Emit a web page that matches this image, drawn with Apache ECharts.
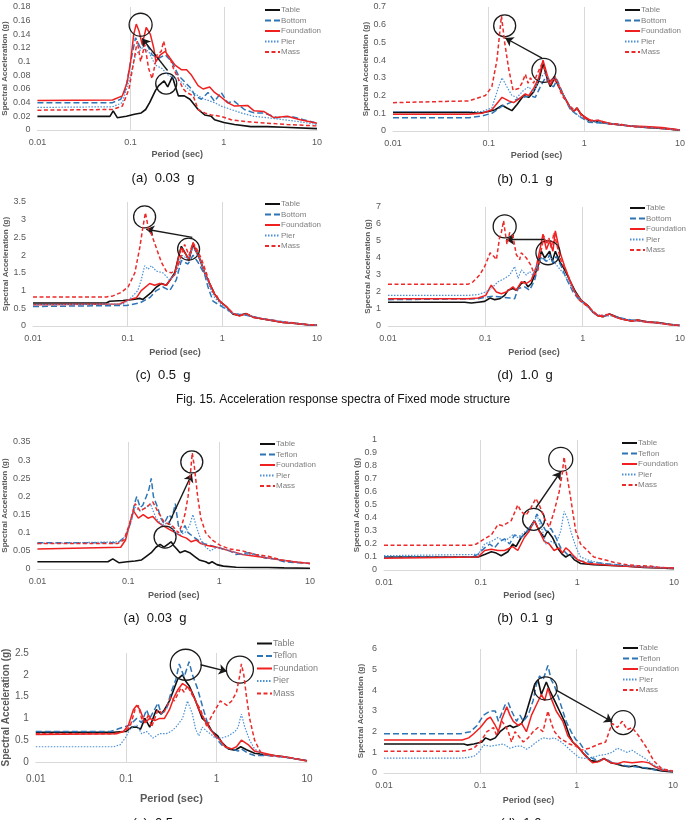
<!DOCTYPE html>
<html>
<head>
<meta charset="utf-8">
<script src="https://cdn.jsdelivr.net/npm/echarts@6/dist/echarts.min.js"></script>
<style>
  html, body { margin: 0; padding: 0; background: #fff; }
  #chart { width: 691px; height: 820px; }
</style>
</head>
<body>
<div id="chart"></div>
<script>
// ---- Fixed mode, (a) 0.03 g ----  [period (sec), Sa (g)]
const fixA_table = [[0.01,0.02],[0.06,0.02],[0.065,0.028],[0.072,0.018],[0.09,0.02],[0.11,0.023],[0.13,0.025],[0.145,0.03],[0.16,0.04],[0.185,0.058],[0.2,0.065],[0.229,0.072],[0.25,0.063],[0.281,0.078],[0.3,0.065],[0.325,0.05],[0.377,0.05],[0.433,0.045],[0.53,0.03],[0.624,0.022],[0.734,0.02],[0.796,0.015],[1.0,0.011],[1.3,0.008],[1.95,0.005],[2.9,0.005],[4.4,0.004],[10,0.002]]
const fixA_bottom = [[0.01,0.04],[0.064,0.04],[0.0783,0.045],[0.0885,0.06],[0.1,0.1],[0.113,0.135],[0.128,0.12],[0.144,0.13],[0.17,0.11],[0.2,0.105],[0.235,0.11],[0.277,0.1],[0.325,0.08],[0.383,0.07],[0.451,0.06],[0.489,0.05],[0.575,0.045],[0.677,0.055],[0.796,0.042],[0.937,0.055],[1.1,0.04],[1.3,0.042],[1.66,0.03],[2.11,0.025],[2.7,0.025],[3.73,0.018],[5.17,0.02],[7.16,0.015],[10,0.01]]
const fixA_foundation = [[0.01,0.043],[0.064,0.044],[0.0816,0.05],[0.092,0.07],[0.1,0.1],[0.108,0.14],[0.115,0.155],[0.123,0.145],[0.133,0.125],[0.147,0.15],[0.163,0.14],[0.177,0.12],[0.187,0.1],[0.208,0.11],[0.235,0.115],[0.265,0.105],[0.3,0.095],[0.353,0.088],[0.399,0.088],[0.451,0.08],[0.53,0.065],[0.599,0.06],[0.705,0.063],[0.796,0.055],[0.937,0.048],[1.1,0.04],[1.3,0.035],[1.8,0.036],[2.11,0.028],[2.7,0.027],[3.44,0.018],[4.77,0.02],[6.61,0.015],[10,0.01]]
const fixA_pier = [[0.01,0.033],[0.064,0.034],[0.0816,0.04],[0.1,0.08],[0.113,0.11],[0.133,0.12],[0.156,0.115],[0.184,0.095],[0.217,0.09],[0.255,0.08],[0.3,0.075],[0.353,0.07],[0.415,0.06],[0.469,0.055],[0.53,0.05],[0.624,0.045],[0.796,0.04],[0.937,0.035],[1.2,0.03],[1.53,0.025],[2.11,0.02],[2.93,0.018],[4.4,0.015],[6.61,0.012],[10,0.008]]
const fixA_mass = [[0.01,0.029],[0.064,0.03],[0.0816,0.035],[0.096,0.06],[0.108,0.1],[0.118,0.13],[0.128,0.1],[0.142,0.125],[0.156,0.09],[0.17,0.075],[0.192,0.11],[0.213,0.115],[0.226,0.13],[0.245,0.11],[0.265,0.105],[0.288,0.09],[0.325,0.075],[0.368,0.06],[0.399,0.055],[0.469,0.05],[0.53,0.03],[0.624,0.025],[0.734,0.022],[0.937,0.02],[1.2,0.015],[1.8,0.012],[2.93,0.01],[4.77,0.008],[10,0.006]]
const fixA_circles = [[0.128,0.154],[0.241,0.068]]
const fixA_arrow = [[0.249,0.087],[0.133,0.134]]

// ---- Fixed mode, (b) 0.1 g ----
const fixB_table = [[0.01,0.105],[0.0618,0.105],[0.0786,0.1],[0.1,0.11],[0.117,0.12],[0.138,0.145],[0.155,0.13],[0.175,0.115],[0.198,0.15],[0.232,0.2],[0.262,0.19],[0.295,0.22],[0.333,0.28],[0.37,0.38],[0.407,0.3],[0.441,0.25],[0.49,0.3],[0.54,0.25],[0.608,0.2],[0.714,0.13],[0.774,0.11],[0.838,0.13],[0.908,0.1],[1.11,0.06],[1.41,0.05],[1.95,0.04],[2.9,0.03],[4.34,0.02],[6.48,0.015],[10,0.005]]
const fixB_bottom = [[0.01,0.075],[0.0618,0.075],[0.0851,0.085],[0.108,0.1],[0.138,0.14],[0.168,0.16],[0.198,0.18],[0.232,0.19],[0.273,0.2],[0.307,0.19],[0.347,0.25],[0.391,0.3],[0.441,0.26],[0.478,0.25],[0.518,0.29],[0.608,0.2],[0.714,0.12],[0.805,0.1],[0.908,0.08],[1.11,0.05],[1.53,0.045],[2.29,0.035],[3.41,0.025],[5.98,0.018],[10,0.005]]
const fixB_foundation = [[0.01,0.095],[0.0618,0.095],[0.0851,0.1],[0.108,0.12],[0.138,0.19],[0.162,0.17],[0.182,0.16],[0.206,0.18],[0.242,0.21],[0.262,0.2],[0.295,0.24],[0.333,0.3],[0.37,0.4],[0.407,0.32],[0.441,0.26],[0.49,0.31],[0.54,0.26],[0.608,0.2],[0.714,0.13],[0.774,0.11],[0.838,0.125],[0.946,0.09],[1.2,0.055],[1.41,0.06],[1.95,0.04],[2.9,0.03],[4.34,0.025],[6.48,0.02],[10,0.005]]
const fixB_pier = [[0.01,0.11],[0.0618,0.11],[0.0851,0.11],[0.108,0.13],[0.127,0.25],[0.138,0.3],[0.155,0.25],[0.175,0.2],[0.198,0.19],[0.232,0.23],[0.262,0.25],[0.295,0.22],[0.347,0.3],[0.391,0.33],[0.441,0.28],[0.498,0.3],[0.584,0.22],[0.686,0.14],[0.805,0.1],[0.946,0.07],[1.2,0.055],[1.66,0.045],[2.48,0.035],[3.7,0.025],[5.98,0.015],[10,0.005]]
const fixB_mass = [[0.01,0.16],[0.0618,0.17],[0.0923,0.2],[0.108,0.25],[0.122,0.4],[0.136,0.65],[0.147,0.5],[0.162,0.35],[0.18,0.23],[0.206,0.24],[0.223,0.27],[0.242,0.32],[0.258,0.27],[0.273,0.3],[0.295,0.27],[0.32,0.32],[0.361,0.38],[0.391,0.34],[0.424,0.27],[0.478,0.3],[0.54,0.25],[0.584,0.2],[0.686,0.15],[0.774,0.12],[0.838,0.13],[0.946,0.08],[1.11,0.06],[1.41,0.06],[1.8,0.04],[2.29,0.04],[3.15,0.025],[4.34,0.02],[5.52,0.018],[7.62,0.01],[10,0.005]]
const fixB_circles = [[0.147,0.594],[0.378,0.342]]
const fixB_arrow = [[0.361,0.411],[0.149,0.525]]

// ---- Fixed mode, (c) 0.5 g ----
const fixC_table = [[0.01,0.65],[0.0595,0.65],[0.0646,0.7],[0.0893,0.72],[0.114,0.75],[0.134,0.78],[0.145,0.75],[0.178,0.95],[0.201,1.1],[0.227,1.2],[0.256,1.15],[0.289,1.35],[0.314,1.5],[0.348,2.0],[0.369,2.25],[0.417,2.0],[0.441,1.85],[0.49,2.3],[0.531,2.1],[0.576,1.9],[0.651,1.5],[0.735,1.2],[0.83,0.9],[0.937,0.7],[1.1,0.55],[1.3,0.33],[1.52,0.3],[1.79,0.35],[2.11,0.25],[2.69,0.2],[3.43,0.15],[4.38,0.1],[5.57,0.08],[7.71,0.04],[10,0.02]]
const fixC_bottom = [[0.01,0.55],[0.0968,0.58],[0.134,0.65],[0.171,0.8],[0.201,1.0],[0.236,1.1],[0.278,1.0],[0.326,1.3],[0.369,1.85],[0.434,1.75],[0.49,2.0],[0.553,1.8],[0.651,1.45],[0.706,1.1],[0.797,0.7],[0.99,0.55],[1.3,0.35],[1.79,0.3],[2.69,0.2],[4.38,0.12],[7.11,0.05],[10,0.02]]
const fixC_foundation = [[0.01,0.6],[0.0823,0.62],[0.105,0.75],[0.124,0.8],[0.139,1.0],[0.171,1.2],[0.193,1.15],[0.218,1.2],[0.256,1.15],[0.289,1.35],[0.314,1.45],[0.348,2.0],[0.369,2.2],[0.417,2.0],[0.441,1.85],[0.49,2.35],[0.531,2.1],[0.576,1.9],[0.651,1.5],[0.735,1.2],[0.83,0.9],[0.937,0.7],[1.1,0.55],[1.3,0.35],[1.52,0.28],[1.79,0.35],[2.11,0.25],[2.69,0.2],[3.43,0.15],[4.38,0.1],[5.57,0.08],[7.71,0.04],[10,0.02]]
const fixC_pier = [[0.01,0.6],[0.0893,0.62],[0.109,0.8],[0.128,1.0],[0.139,1.3],[0.151,1.7],[0.164,1.6],[0.178,1.7],[0.201,1.55],[0.236,1.5],[0.278,1.3],[0.326,1.5],[0.369,2.0],[0.434,1.9],[0.49,2.2],[0.553,2.0],[0.651,1.5],[0.735,1.1],[0.83,0.8],[1.02,0.55],[1.3,0.35],[1.79,0.32],[2.69,0.2],[4.38,0.12],[7.11,0.05],[10,0.02]]
const fixC_mass = [[0.01,0.82],[0.0595,0.82],[0.0697,0.85],[0.0857,0.95],[0.101,1.1],[0.119,1.5],[0.134,2.2],[0.145,2.8],[0.154,3.2],[0.167,2.7],[0.178,2.6],[0.201,2.2],[0.227,1.8],[0.256,1.55],[0.289,1.5],[0.314,1.55],[0.34,1.7],[0.378,2.1],[0.4,2.3],[0.444,2.0],[0.49,2.35],[0.531,2.2],[0.6,1.9],[0.678,1.5],[0.735,1.2],[0.797,0.95],[0.851,0.9],[0.937,0.7],[1.1,0.55],[1.3,0.35],[1.52,0.3],[1.79,0.35],[2.11,0.25],[2.69,0.2],[3.3,0.17],[4.03,0.12],[5.14,0.1],[7.11,0.05],[10,0.02]]
const fixC_circles = [[0.151,3.08],[0.44,2.17]]
const fixC_arrow = [[0.482,2.5],[0.157,2.73]]

// ---- Fixed mode, (d) 1.0 g ----
const fixD_table = [[0.01,1.4],[0.0613,1.4],[0.0718,1.35],[0.0841,1.4],[0.0984,1.45],[0.112,1.65],[0.125,1.55],[0.14,1.6],[0.158,1.8],[0.171,2.1],[0.192,2.2],[0.208,2.1],[0.234,2.5],[0.254,2.6],[0.274,2.3],[0.297,2.5],[0.321,3.0],[0.348,3.5],[0.376,4.4],[0.407,4.0],[0.458,4.4],[0.488,3.8],[0.524,4.4],[0.58,3.8],[0.653,3.3],[0.765,2.5],[0.847,2.0],[0.968,1.5],[1.13,1.2],[1.28,0.8],[1.44,0.6],[1.62,0.55],[1.89,0.7],[2.22,0.55],[2.6,0.4],[3.16,0.3],[3.7,0.35],[4.51,0.25],[5.94,0.2],[7.83,0.1],[10,0.03]]
const fixD_bottom = [[0.01,1.55],[0.0841,1.6],[0.101,1.7],[0.12,1.75],[0.146,1.7],[0.178,1.65],[0.2,1.6],[0.217,2.2],[0.254,2.3],[0.285,2.1],[0.321,2.7],[0.348,3.5],[0.376,4.1],[0.424,3.8],[0.458,4.2],[0.495,3.7],[0.536,4.1],[0.604,3.5],[0.679,2.8],[0.796,2.0],[0.931,1.5],[1.13,1.2],[1.28,0.8],[1.5,0.55],[1.89,0.65],[2.31,0.5],[3.16,0.35],[4.51,0.25],[6.43,0.15],[10,0.03]]
const fixD_foundation = [[0.01,1.6],[0.0664,1.6],[0.0841,1.65],[0.101,1.8],[0.115,2.4],[0.13,2.0],[0.146,1.9],[0.164,2.0],[0.192,2.3],[0.208,2.1],[0.234,2.6],[0.264,2.5],[0.297,2.7],[0.334,3.5],[0.37,4.7],[0.391,5.4],[0.424,4.5],[0.458,5.0],[0.495,4.4],[0.524,5.6],[0.58,4.4],[0.653,3.5],[0.735,2.7],[0.828,2.0],[0.968,1.5],[1.13,1.2],[1.28,0.8],[1.44,0.6],[1.62,0.55],[1.89,0.7],[2.22,0.5],[2.6,0.4],[3.16,0.3],[3.7,0.32],[4.51,0.22],[5.94,0.18],[7.83,0.08],[10,0.03]]
const fixD_pier = [[0.01,1.8],[0.0664,1.8],[0.0841,1.85],[0.101,2.0],[0.115,2.2],[0.135,2.6],[0.158,2.8],[0.178,3.0],[0.2,3.5],[0.217,2.8],[0.234,3.3],[0.264,3.0],[0.285,3.2],[0.309,3.0],[0.334,3.5],[0.376,4.0],[0.424,3.8],[0.476,4.0],[0.536,3.6],[0.653,3.0],[0.765,2.3],[0.931,1.6],[1.13,1.1],[1.33,0.7],[1.68,0.6],[1.97,0.6],[2.7,0.4],[3.7,0.3],[5.5,0.2],[10,0.03]]
const fixD_mass = [[0.01,2.45],[0.0664,2.45],[0.0747,2.6],[0.0874,3.0],[0.0984,3.5],[0.112,4.3],[0.122,4.1],[0.13,3.9],[0.14,5.2],[0.146,5.5],[0.154,6.2],[0.16,5.5],[0.167,4.8],[0.178,5.5],[0.192,5.3],[0.208,4.2],[0.225,3.9],[0.234,4.3],[0.264,4.0],[0.292,3.6],[0.321,3.0],[0.348,3.3],[0.376,4.5],[0.401,5.3],[0.424,4.8],[0.448,5.2],[0.476,4.6],[0.507,5.5],[0.558,4.5],[0.604,3.8],[0.679,3.2],[0.765,2.5],[0.828,2.0],[0.931,1.5],[1.09,1.2],[1.28,0.9],[1.44,0.6],[1.68,0.65],[1.89,0.7],[2.13,0.55],[2.5,0.4],[3.16,0.3],[3.7,0.35],[4.69,0.25],[5.94,0.2],[7.53,0.1],[10,0.03]]
const fixD_circles = [[0.158,5.86],[0.44,4.31]]
const fixD_arrow = [[0.407,5.08],[0.164,5.08]]

// ---- Isolated (Teflon) mode, (a) 0.03 g ----
const isoA_table = [[0.01,0.02],[0.0597,0.02],[0.0675,0.028],[0.0793,0.017],[0.0972,0.02],[0.119,0.022],[0.14,0.025],[0.158,0.035],[0.179,0.045],[0.202,0.06],[0.224,0.068],[0.247,0.06],[0.279,0.07],[0.296,0.075],[0.315,0.065],[0.342,0.055],[0.371,0.045],[0.42,0.05],[0.474,0.045],[0.535,0.035],[0.604,0.025],[0.711,0.02],[0.771,0.015],[0.836,0.02],[0.944,0.012],[1.11,0.008],[1.54,0.005],[2.31,0.004],[3.47,0.004],[5.2,0.003],[10,0.002]]
const isoA_teflon = [[0.01,0.072],[0.0703,0.072],[0.0793,0.075],[0.0933,0.09],[0.107,0.13],[0.117,0.18],[0.124,0.2],[0.135,0.17],[0.144,0.175],[0.158,0.2],[0.169,0.22],[0.179,0.25],[0.189,0.2],[0.21,0.17],[0.228,0.14],[0.247,0.125],[0.279,0.15],[0.303,0.14],[0.329,0.18],[0.356,0.12],[0.387,0.1],[0.42,0.12],[0.455,0.1],[0.514,0.09],[0.58,0.08],[0.683,0.07],[0.803,0.065],[0.944,0.06],[1.11,0.055],[1.31,0.05],[1.54,0.04],[2.13,0.045],[2.5,0.04],[3.19,0.03],[4.07,0.028],[5.2,0.02],[6.64,0.018],[10,0.015]]
const isoA_foundation = [[0.01,0.055],[0.0826,0.06],[0.0933,0.08],[0.105,0.13],[0.114,0.16],[0.129,0.14],[0.146,0.15],[0.165,0.14],[0.186,0.145],[0.21,0.13],[0.238,0.12],[0.279,0.11],[0.329,0.1],[0.387,0.09],[0.437,0.085],[0.493,0.075],[0.557,0.08],[0.629,0.07],[0.74,0.065],[0.944,0.06],[1.31,0.05],[1.81,0.04],[2.5,0.035],[3.47,0.03],[4.8,0.025],[6.64,0.02],[10,0.015]]
const isoA_pier = [[0.01,0.07],[0.0793,0.075],[0.0933,0.09],[0.107,0.13],[0.119,0.17],[0.135,0.16],[0.158,0.17],[0.175,0.18],[0.202,0.14],[0.238,0.12],[0.279,0.13],[0.329,0.1],[0.371,0.095],[0.42,0.1],[0.474,0.12],[0.514,0.15],[0.557,0.12],[0.629,0.08],[0.711,0.06],[0.803,0.05],[0.944,0.06],[1.31,0.05],[1.81,0.04],[2.5,0.04],[3.47,0.03],[4.8,0.025],[6.64,0.02],[10,0.015]]
const isoA_mass = [[0.01,0.07],[0.0762,0.07],[0.0896,0.08],[0.105,0.13],[0.119,0.18],[0.135,0.16],[0.158,0.17],[0.186,0.185],[0.21,0.16],[0.247,0.13],[0.303,0.12],[0.356,0.1],[0.387,0.12],[0.42,0.15],[0.455,0.2],[0.486,0.27],[0.506,0.32],[0.535,0.28],[0.58,0.2],[0.629,0.14],[0.711,0.1],[0.836,0.08],[1.03,0.065],[1.31,0.055],[1.81,0.05],[2.5,0.04],[3.47,0.035],[4.8,0.025],[6.64,0.02],[10,0.015]]
const isoA_circles = [[0.254,0.088],[0.5,0.295]]
const isoA_arrow = [[0.275,0.122],[0.501,0.262]]

// ---- Isolated (Teflon) mode, (b) 0.1 g ----
const isoB_table = [[0.01,0.1],[0.0939,0.1],[0.11,0.12],[0.129,0.14],[0.145,0.13],[0.163,0.11],[0.191,0.14],[0.215,0.2],[0.232,0.18],[0.262,0.25],[0.306,0.3],[0.359,0.38],[0.404,0.3],[0.455,0.25],[0.492,0.3],[0.553,0.25],[0.623,0.17],[0.701,0.12],[0.759,0.1],[0.841,0.12],[0.925,0.08],[1.08,0.05],[1.48,0.04],[2.2,0.035],[3.27,0.03],[4.84,0.02],[7.18,0.015],[10,0.01]]
const isoB_teflon = [[0.01,0.1],[0.0802,0.1],[0.0939,0.12],[0.11,0.17],[0.124,0.2],[0.139,0.17],[0.157,0.22],[0.177,0.24],[0.199,0.2],[0.224,0.27],[0.262,0.25],[0.306,0.3],[0.345,0.35],[0.382,0.43],[0.42,0.37],[0.473,0.3],[0.532,0.32],[0.599,0.25],[0.674,0.17],[0.789,0.12],[0.925,0.1],[1.08,0.07],[1.37,0.06],[1.88,0.05],[2.58,0.04],[3.53,0.03],[4.84,0.025],[6.64,0.02],[10,0.015]]
const isoB_foundation = [[0.01,0.09],[0.0939,0.1],[0.11,0.15],[0.129,0.16],[0.151,0.15],[0.177,0.15],[0.215,0.18],[0.242,0.15],[0.283,0.25],[0.319,0.3],[0.359,0.38],[0.404,0.3],[0.455,0.22],[0.512,0.2],[0.575,0.15],[0.648,0.17],[0.701,0.13],[0.759,0.17],[0.821,0.15],[0.889,0.12],[1.0,0.08],[1.27,0.05],[1.88,0.04],[2.79,0.03],[4.13,0.025],[6.13,0.02],[10,0.015]]
const isoB_pier = [[0.01,0.11],[0.0939,0.12],[0.11,0.2],[0.129,0.22],[0.151,0.25],[0.177,0.22],[0.215,0.27],[0.242,0.25],[0.294,0.3],[0.345,0.35],[0.382,0.42],[0.437,0.3],[0.473,0.2],[0.532,0.22],[0.599,0.2],[0.674,0.3],[0.729,0.45],[0.789,0.4],[0.855,0.3],[0.962,0.18],[1.08,0.1],[1.37,0.07],[1.88,0.05],[2.58,0.04],[3.82,0.03],[6.13,0.02],[10,0.015]]
const isoB_mass = [[0.01,0.19],[0.0802,0.19],[0.0902,0.2],[0.11,0.24],[0.129,0.27],[0.151,0.35],[0.169,0.34],[0.207,0.38],[0.227,0.45],[0.242,0.5],[0.262,0.45],[0.294,0.42],[0.332,0.48],[0.373,0.55],[0.404,0.5],[0.455,0.4],[0.512,0.33],[0.575,0.45],[0.648,0.6],[0.701,0.75],[0.729,0.87],[0.771,0.75],[0.834,0.6],[0.875,0.5],[0.962,0.3],[1.08,0.2],[1.27,0.15],[1.48,0.1],[1.88,0.08],[2.38,0.06],[3.27,0.04],[4.13,0.035],[5.66,0.03],[7.18,0.02],[10,0.015]]
const isoB_circles = [[0.353,0.39],[0.674,0.851]]
const isoB_arrow = [[0.373,0.479],[0.674,0.756]]

// ---- Isolated (Teflon) mode, (c) 0.5 g ----
const isoC_table = [[0.01,0.68],[0.0728,0.68],[0.0935,0.7],[0.1,0.7],[0.115,0.8],[0.131,0.8],[0.144,0.75],[0.161,1.0],[0.182,0.8],[0.198,1.0],[0.215,1.2],[0.244,1.1],[0.265,1.2],[0.301,1.4],[0.341,1.7],[0.371,1.9],[0.42,2.0],[0.456,1.85],[0.496,1.75],[0.562,1.5],[0.611,1.3],[0.693,1.0],[0.785,0.9],[0.89,0.7],[1.03,0.6],[1.14,0.45],[1.35,0.3],[1.6,0.27],[1.85,0.35],[2.14,0.28],[2.63,0.2],[3.38,0.17],[4.34,0.15],[5.57,0.12],[7.16,0.08],[10,0.03]]
const isoC_teflon = [[0.01,0.7],[0.067,0.7],[0.0792,0.75],[0.0935,0.8],[0.11,0.85],[0.131,1.0],[0.148,0.9],[0.168,1.2],[0.182,1.0],[0.225,1.35],[0.244,1.1],[0.277,1.2],[0.314,1.6],[0.355,1.9],[0.386,2.25],[0.438,1.95],[0.496,2.3],[0.54,2.0],[0.611,1.7],[0.693,1.3],[0.818,0.8],[0.967,0.6],[1.03,0.5],[1.19,0.35],[1.47,0.3],[1.73,0.25],[1.88,0.3],[2.23,0.2],[2.63,0.15],[3.68,0.15],[5.13,0.12],[7.16,0.08],[10,0.03]]
const isoC_foundation = [[0.01,0.63],[0.0792,0.65],[0.0935,0.7],[0.106,0.85],[0.12,1.2],[0.131,1.3],[0.142,1.2],[0.161,0.9],[0.182,1.0],[0.207,0.95],[0.234,1.0],[0.265,1.0],[0.301,1.2],[0.341,1.5],[0.371,1.65],[0.42,1.8],[0.456,1.75],[0.517,1.65],[0.586,1.4],[0.637,1.2],[0.722,1.0],[0.818,0.8],[0.967,0.6],[1.1,0.5],[1.24,0.35],[1.47,0.3],[1.66,0.35],[1.88,0.5],[2.23,0.4],[2.63,0.25],[3.38,0.2],[4.34,0.15],[5.57,0.12],[7.16,0.08],[10,0.03]]
const isoC_pier = [[0.01,0.35],[0.0728,0.35],[0.0861,0.4],[0.0975,0.55],[0.11,0.75],[0.131,0.85],[0.148,0.65],[0.168,0.7],[0.198,0.55],[0.234,0.65],[0.277,0.65],[0.314,0.7],[0.355,0.8],[0.42,1.0],[0.476,1.4],[0.54,1.1],[0.586,0.75],[0.637,0.6],[0.693,0.8],[0.785,0.7],[0.853,0.65],[0.967,0.55],[1.14,0.55],[1.35,0.6],[1.6,0.7],[1.73,0.8],[1.88,1.1],[2.05,0.8],[2.32,0.5],[2.63,0.3],[3.11,0.2],[3.68,0.15],[5.13,0.12],[7.16,0.08],[10,0.03]]
const isoC_mass = [[0.01,0.65],[0.0728,0.65],[0.0935,0.7],[0.11,0.8],[0.125,1.2],[0.136,1.3],[0.148,1.0],[0.161,0.9],[0.178,1.1],[0.19,0.8],[0.207,1.0],[0.225,1.2],[0.255,1.1],[0.288,1.3],[0.314,1.5],[0.341,1.4],[0.403,1.7],[0.438,1.6],[0.476,1.75],[0.517,1.6],[0.586,1.4],[0.664,1.2],[0.722,1.0],[0.785,0.8],[0.853,1.0],[0.967,1.2],[1.1,1.4],[1.3,1.3],[1.47,1.4],[1.66,1.6],[1.81,2.0],[1.88,2.25],[2.0,2.0],[2.14,1.5],[2.32,1.0],[2.63,0.5],[3.11,0.2],[3.68,0.15],[5.13,0.12],[6.59,0.1],[8.47,0.05],[10,0.02]]
const isoC_circles = [[0.456,2.23],[1.81,2.12]]
const isoC_arrow = [[0.664,2.23],[1.3,2.08]]

// ---- Isolated (Teflon) mode, (d) 1.0 g ----
const isoD_table = [[0.01,1.4],[0.0674,1.4],[0.0729,1.35],[0.0855,1.4],[0.104,1.5],[0.113,1.7],[0.127,1.6],[0.143,1.7],[0.16,2.0],[0.181,2.2],[0.203,2.3],[0.22,2.2],[0.248,2.3],[0.268,2.4],[0.29,2.7],[0.326,3.5],[0.367,4.3],[0.397,4.5],[0.43,3.8],[0.484,4.4],[0.524,4.0],[0.59,3.5],[0.664,3.0],[0.747,2.5],[0.841,1.8],[0.91,1.5],[1.06,1.2],[1.2,0.9],[1.4,0.6],[1.64,0.55],[1.92,0.7],[2.25,0.5],[2.54,0.45],[2.97,0.35],[3.48,0.3],[4.07,0.35],[4.77,0.25],[6.04,0.2],[7.65,0.1],[10,0.05]]
const isoD_teflon = [[0.01,1.9],[0.0623,1.9],[0.0789,2.0],[0.0925,2.3],[0.108,2.8],[0.127,3.0],[0.143,3.0],[0.154,2.5],[0.181,3.3],[0.195,3.4],[0.211,3.0],[0.238,2.5],[0.258,2.8],[0.279,2.5],[0.314,2.8],[0.353,3.5],[0.382,4.3],[0.413,4.7],[0.447,4.5],[0.503,5.2],[0.545,4.5],[0.59,4.2],[0.664,3.5],[0.777,2.5],[0.875,2.0],[0.985,1.6],[1.06,1.5],[1.25,1.0],[1.46,0.7],[1.71,0.6],[2.0,0.7],[2.34,0.5],[2.74,0.45],[3.21,0.35],[4.07,0.3],[5.15,0.25],[6.53,0.15],[10,0.1]]
const isoD_foundation = [[0.01,1.6],[0.0648,1.6],[0.0758,1.7],[0.0855,1.9],[0.1,2.2],[0.117,2.6],[0.127,2.7],[0.143,2.3],[0.154,2.0],[0.167,2.6],[0.188,3.2],[0.203,2.8],[0.22,2.5],[0.248,2.3],[0.268,2.4],[0.301,2.0],[0.34,2.8],[0.382,3.3],[0.43,3.8],[0.465,3.5],[0.503,4.1],[0.545,3.6],[0.613,3.0],[0.718,2.5],[0.809,1.8],[0.91,1.5],[1.02,1.3],[1.15,1.0],[1.3,0.7],[1.46,0.5],[1.71,0.55],[1.92,0.7],[2.25,0.5],[2.64,0.45],[3.09,0.55],[3.76,0.5],[4.77,0.55],[5.58,0.5],[6.53,0.3],[7.65,0.15],[10,0.08]]
const isoD_pier = [[0.01,0.72],[0.0623,0.72],[0.0729,0.75],[0.0855,0.8],[0.0962,1.0],[0.108,1.35],[0.127,1.3],[0.148,1.35],[0.174,1.4],[0.203,1.2],[0.238,1.3],[0.268,1.3],[0.301,1.15],[0.34,1.3],[0.382,1.5],[0.447,1.7],[0.524,1.65],[0.59,1.7],[0.69,1.5],[0.777,1.3],[0.91,1.0],[1.06,0.75],[1.25,0.7],[1.46,0.75],[1.71,0.85],[2.0,0.9],[2.34,1.0],[2.64,1.2],[2.97,1.1],[3.34,1.0],[3.76,1.1],[4.4,0.9],[5.15,0.7],[6.28,0.4],[7.65,0.2],[10,0.05]]
const isoD_mass = [[0.01,1.05],[0.0623,1.05],[0.0729,1.1],[0.0855,1.2],[0.1,1.5],[0.117,2.0],[0.137,2.2],[0.148,1.8],[0.167,2.5],[0.181,2.3],[0.195,2.0],[0.211,1.5],[0.229,2.0],[0.258,1.7],[0.279,1.5],[0.314,1.7],[0.353,2.0],[0.397,2.2],[0.447,2.0],[0.503,3.0],[0.545,2.4],[0.59,2.0],[0.664,1.7],[0.747,1.55],[0.841,1.4],[0.985,1.3],[1.11,1.1],[1.35,1.2],[1.71,1.4],[2.0,1.5],[2.17,2.0],[2.34,2.4],[2.64,2.2],[2.97,2.5],[3.34,2.1],[3.76,2.2],[4.4,1.8],[5.36,1.2],[6.28,0.6],[7.65,0.2],[10,0.1]]
const isoD_circles = [[0.476,4.09],[3.04,2.44]]
const isoD_arrow = [[0.613,4.01],[2.34,2.48]]

const yMaxes = [0.18, 0.7, 3.5, 7, 0.35, 1, 2.5, 6]
const ySteps = [0.02, 0.1, 0.5, 1, 0.05, 0.1, 0.5, 1]
const captions = ['(a)  0.03  g', '(b)  0.1  g', '(c)  0.5  g', '(d)  1.0  g',
                  '(a)  0.03  g', '(b)  0.1  g', '(c)  0.5  g', '(d)  1.0  g']
const figTitle = 'Fig. 15. Acceleration response spectra of Fixed mode structure'

// layout of the eight panels (pixels)
const panels = [
  { grid: [34, 7, 283, 123],   legend: [264, 6],   cap: [163, 178], xGap: 20, yGap: 24, circ: [23, 21],
    names: ['Table', 'Bottom', 'Foundation', 'Pier', 'Mass'], data: [fixA_table, fixA_bottom, fixA_foundation, fixA_pier, fixA_mass], circles: fixA_circles, arrow: fixA_arrow },
  { grid: [393, 7, 287, 124],  legend: [624, 6],   cap: [525, 179], xGap: 20, yGap: 20, circ: [22, 24],
    names: ['Table', 'Bottom', 'Foundation', 'Pier', 'Mass'], data: [fixB_table, fixB_bottom, fixB_foundation, fixB_pier, fixB_mass], circles: fixB_circles, arrow: fixB_arrow },
  { grid: [33, 202, 284, 124], legend: [264, 200], cap: [163, 375], xGap: 22, yGap: 23, circ: [22, 22],
    names: ['Table', 'Bottom', 'Foundation', 'Pier', 'Mass'], data: [fixC_table, fixC_bottom, fixC_foundation, fixC_pier, fixC_mass], circles: fixC_circles, arrow: fixC_arrow },
  { grid: [388, 207, 292, 119], legend: [629, 204], cap: [525, 375], xGap: 22, yGap: 15, circ: [23, 24],
    names: ['Table', 'Bottom', 'Foundation', 'Pier', 'Mass'], data: [fixD_table, fixD_bottom, fixD_foundation, fixD_pier, fixD_mass], circles: fixD_circles, arrow: fixD_arrow },
  { grid: [27, 442, 283, 127], legend: [259, 440], cap: [155, 618], xGap: 22, yGap: 24, circ: [22, 22],
    names: ['Table', 'Teflon', 'Foundation', 'Pier', 'Mass'], data: [isoA_table, isoA_teflon, isoA_foundation, isoA_pier, isoA_mass], circles: isoA_circles, arrow: isoA_arrow },
  { grid: [384, 440, 290, 130], legend: [621, 439], cap: [525, 618], xGap: 21, yGap: 20, circ: [22, 24],
    names: ['Table', 'Teflon', 'Foundation', 'Pier', 'Mass'], data: [isoB_table, isoB_teflon, isoB_foundation, isoB_pier, isoB_mass], circles: isoB_circles, arrow: isoB_arrow },
  { grid: [31, 653, 276, 109], legend: [256, 639], cap: [160, 823], xGap: 31, yGap: 20, circ: [31, 27], big: true,
    names: ['Table', 'Teflon', 'Foundation', 'Pier', 'Mass'], data: [isoC_table, isoC_teflon, isoC_foundation, isoC_pier, isoC_mass], circles: isoC_circles, arrow: isoC_arrow },
  { grid: [384, 649, 289, 124], legend: [622, 644], cap: [528, 823], xGap: 23, yGap: 19, circ: [23, 24],
    names: ['Table', 'Teflon', 'Foundation', 'Pier', 'Mass'], data: [isoD_table, isoD_teflon, isoD_foundation, isoD_pier, isoD_mass], circles: isoD_circles, arrow: isoD_arrow }
]

// Table, Bottom/Teflon, Foundation, Pier, Mass
const lineStyles = [
  { color: '#111111', width: 1.6, type: 'solid' },
  { color: '#2e75b6', width: 1.5, type: [6, 3] },
  { color: '#f02020', width: 1.5, type: 'solid' },
  { color: '#4a90d4', width: 1.2, type: [1.5, 1.5] },
  { color: '#ec2a2a', width: 1.5, type: [4, 2.5] }
]

const FONT = '"Liberation Sans Narrow", "Liberation Sans", Arial, sans-serif'
const chart = echarts.init(document.getElementById('chart'), null, { renderer: 'canvas' })

const grid = [], xAxis = [], yAxis = [], legend = [], series = [], graphic = []

panels.forEach((p, i) => {
  const fs = p.big ? 10 : 9
  grid.push({ left: p.grid[0], top: p.grid[1], width: p.grid[2], height: p.grid[3], containLabel: false })
  xAxis.push({
    type: 'log', logBase: 10, min: 0.01, max: 10, gridIndex: i,
    name: 'Period (sec)', nameLocation: 'middle', nameGap: p.xGap,
    nameTextStyle: { color: '#595959', fontSize: p.big ? 11 : 9, fontWeight: 'bold', fontFamily: FONT },
    axisLine: { lineStyle: { color: '#d9d9d9', width: 1 } },
    axisTick: { show: false },
    axisLabel: { color: '#595959', fontSize: fs, fontFamily: FONT, margin: p.big ? 12 : 8 },
    splitLine: { show: true, showMinLine: false, showMaxLine: false, lineStyle: { color: '#d9d9d9', width: 1 } }
  })
  yAxis.push({
    type: 'value', min: 0, max: yMaxes[i], interval: ySteps[i], gridIndex: i,
    name: 'Spectral Acceleration (g)', nameLocation: 'middle', nameGap: p.yGap,
    nameTextStyle: { color: '#595959', fontSize: p.big ? 10 : 8, fontWeight: 'bold', fontFamily: FONT },
    axisLine: { show: false }, axisTick: { show: false }, splitLine: { show: false },
    axisLabel: { color: '#595959', fontSize: fs, fontFamily: FONT, margin: 7 }
  })
  legend.push({
    left: p.legend[0], top: p.legend[1], orient: 'vertical', padding: 0,
    itemWidth: 15, itemHeight: 8, itemGap: p.big ? 3.5 : 2.5,
    itemStyle: { opacity: 0 },
    textStyle: { color: '#7f7f7f', fontSize: p.big ? 9 : 8, fontFamily: FONT, padding: [0, 0, 0, -4] },
    data: p.names
  })
  p.data.forEach((d, k) => {
    const s = {
      name: p.names[k], type: 'line', xAxisIndex: i, yAxisIndex: i,
      data: d, symbol: 'none', showSymbol: false, smooth: false,
      lineStyle: lineStyles[k], itemStyle: { color: lineStyles[k].color },
      silent: true, z: 2 + k
    }
    if (k === 0) {
      s.markPoint = {
        silent: true, animation: false,
        symbol: 'circle',
        itemStyle: { color: 'rgba(0,0,0,0)', borderColor: '#1a1a1a', borderWidth: 1.3 },
        label: { show: false },
        data: p.circles.map((c, j) => ({ coord: c, symbolSize: p.circ[j] }))
      }
      s.markLine = {
        silent: true, animation: false,
        symbol: ['none', 'arrow'], symbolSize: 8,
        lineStyle: { color: '#1a1a1a', width: 1.4, type: 'solid' },
        label: { show: false },
        data: [[{ coord: p.arrow[0] }, { coord: p.arrow[1] }]]
      }
    }
    series.push(s)
  })
  graphic.push({
    type: 'text', x: p.cap[0], y: p.cap[1],
    style: { text: captions[i], align: 'center', verticalAlign: 'middle', fill: '#111', font: '13px "Liberation Sans", Arial, sans-serif' }
  })
})

graphic.push({
  type: 'text', x: 343, y: 400,
  style: { text: figTitle, align: 'center', verticalAlign: 'middle', fill: '#111', font: '12px "Liberation Sans", Arial, sans-serif' }
})

chart.setOption({
  animation: false,
  backgroundColor: '#ffffff',
  grid, xAxis, yAxis, legend, series, graphic
})
</script>
</body>
</html>
